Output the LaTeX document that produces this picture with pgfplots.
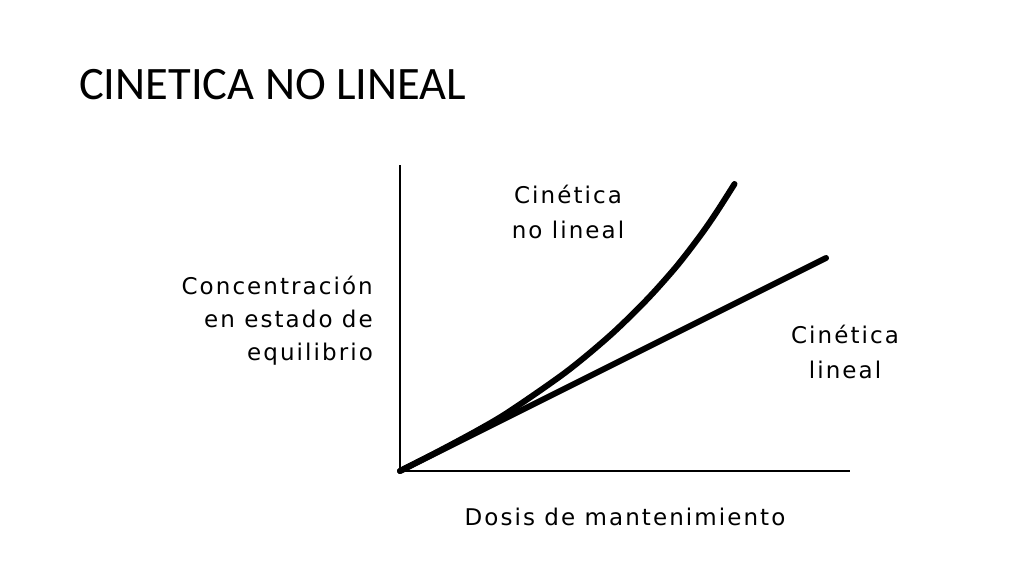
\documentclass[border=0pt]{standalone}
\usepackage{fontspec}
\setmainfont{DejaVu Sans}[LetterSpace=9]
\newfontfamily\titlefont{Carlito}
\usepackage{pgfplots}
\pgfplotsset{compat=1.18}
\begin{document}
\begin{tikzpicture}[x=1pt,y=1pt]
\path[fill=white] (0,0) rectangle (1024,576);
\begin{axis}[
  at={(400pt,105pt)}, anchor=origin,
  scale only axis, width=450pt, height=306pt,
  xmin=0, xmax=450, ymin=0, ymax=306,
  axis x line=bottom, axis y line=left,
  axis line style={-, line width=1.5pt, black},
  xtick=\empty, ytick=\empty,
  clip=false,
]
\addplot[black, line width=6pt, line cap=round] coordinates {(0,0) (426,213)};
\addplot[black, line width=6pt, line cap=round, smooth, tension=0.5] coordinates {
 (0,0) (40,20.5) (79,41.5) (110,60) (166,99) (210,135.5) (246,170.5) (276,204) (300,235) (316,258) (334.5,287)};
\end{axis}
\node[anchor=base west, inner sep=0pt, font=\titlefont\fontsize{46.5}{50}\selectfont] at (79,476) {CINETICA NO LINEAL};
\node[align=center, font=\fontsize{23}{35}\selectfont] at (568,364) {Cinética\\no lineal};
\node[align=center, font=\fontsize{23}{35}\selectfont] at (845,224) {Cinética\\lineal};
\node[align=right, anchor=east, inner sep=0pt, font=\fontsize{23}{33}\selectfont] at (373,255) {Concentración\\en estado de\\equilibrio};
\node[font=\fontsize{23}{34}\selectfont] at (625,59) {Dosis de mantenimiento};
\end{tikzpicture}
\end{document}
